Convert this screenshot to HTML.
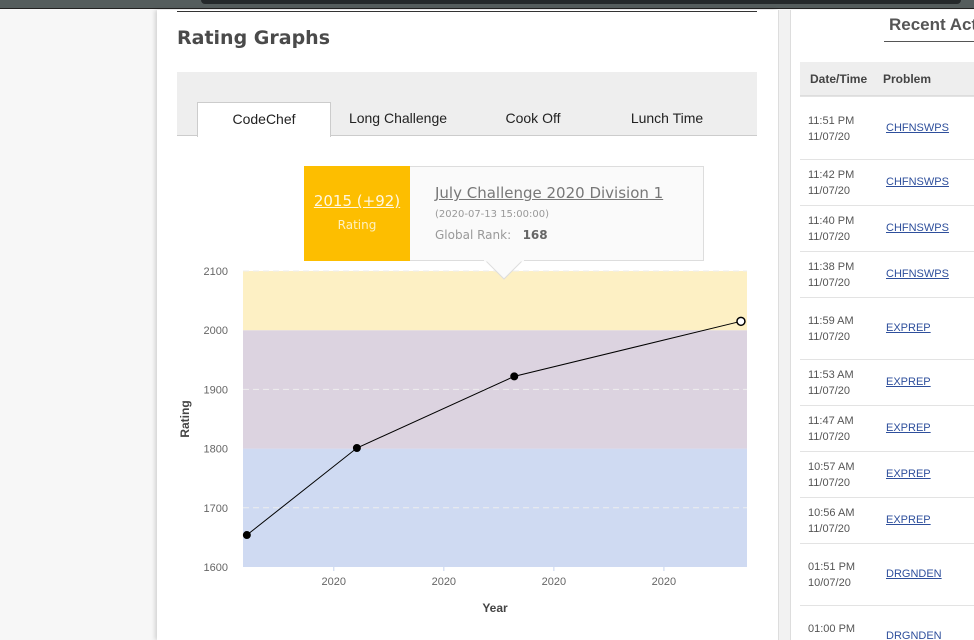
<!DOCTYPE html>
<html style="width:974px;height:640px;overflow:hidden"><head><meta charset="utf-8"><style>
*{box-sizing:border-box;margin:0;padding:0}
html,body{width:974px;height:640px;overflow:hidden}
body{background:#f7f7f7;font-family:"Liberation Sans",sans-serif;position:relative}
.abs{position:absolute}
.row{position:absolute;left:800px;width:174px;border-top:1px solid #e3e3e3}
.row .t{position:absolute;left:8px;font-size:11px;color:#555;line-height:16px}
.row a{position:absolute;left:86px;font-size:11px;color:#2e4f9c;text-decoration:underline}
</style></head><body>
<div class="abs" style="left:0;top:0;width:974px;height:9px;background:#555d5d;border-bottom:1px solid #222"></div>
<div class="abs" style="left:201px;top:0;width:760px;height:4px;background:#25292b;border-radius:0 0 4px 4px"></div>
<div class="abs" style="left:157px;top:10px;width:621px;height:630px;background:#fff;box-shadow:-2px 0 4px rgba(0,0,0,.15)"></div>
<div class="abs" style="left:778px;top:10px;width:12px;height:630px;background:#f2f2f2;border-left:1px solid #ddd"></div>
<div class="abs" style="left:790px;top:10px;width:184px;height:630px;background:#fff;border-left:1px solid #ddd"></div>
<div class="abs" style="left:177px;top:11px;width:580px;height:1px;background:#333"></div>
<div class="abs" style="left:177px;top:27px;font-size:19px;font-weight:bold;color:#4a4a4a;font-family:'DejaVu Sans',sans-serif">Rating Graphs</div>
<div class="abs" style="left:177px;top:72px;width:580px;height:64px;background:#eee;border-bottom:1px solid #ccc"></div>
<div class="abs" style="left:197px;top:102px;width:134px;height:35px;background:#fff;border:1px solid #ccc;border-bottom:none;text-align:center;line-height:32px;font-size:14px;color:#222">CodeChef</div>
<div class="abs" style="left:333px;top:102px;width:130px;line-height:32px;text-align:center;font-size:14px;color:#222">Long Challenge</div>
<div class="abs" style="left:468px;top:102px;width:130px;line-height:32px;text-align:center;font-size:14px;color:#222">Cook Off</div>
<div class="abs" style="left:602px;top:102px;width:130px;line-height:32px;text-align:center;font-size:14px;color:#222">Lunch Time</div>

<svg class="abs" style="left:0;top:0" width="974" height="640" id="chart"></svg>

<div class="abs" style="left:304px;top:166px;width:400px;height:95px;background:#fafafa;border:1px solid #ddd;font-family:'DejaVu Sans',sans-serif">
 <div class="abs" style="left:-1px;top:-1px;width:106px;height:95px;background:#fdbe00;text-align:center;color:#fff">
  <div style="margin-top:26px;font-size:15px;text-decoration:underline;color:#fff7e0">2015 (+92)</div>
  <div style="margin-top:8px;font-size:12px;color:#fef0c0">Rating</div>
 </div>
 <div class="abs" style="left:130px;top:17px;font-size:15px;color:#777;text-decoration:underline">July Challenge 2020 Division 1</div>
 <div class="abs" style="left:130px;top:42px;font-size:10px;color:#999">(2020-07-13 15:00:00)</div>
 <div class="abs" style="left:130px;top:61px;font-size:12px;color:#999">Global Rank:&nbsp;&nbsp; <b style="color:#666">168</b></div>
</div>
<svg class="abs" style="left:484px;top:260px" width="40" height="22"><polygon points="1,0 39,0 20,19" fill="#fafafa" stroke="#ddd"/><rect x="0" y="0" width="40" height="1.5" fill="#fafafa"/></svg>

<div class="abs" style="left:889px;top:15px;font-size:17px;font-weight:bold;color:#555;white-space:nowrap">Recent Activity</div>
<div class="abs" style="left:884px;top:41px;width:90px;height:1px;background:#555"></div>
<div class="abs" style="left:800px;top:62px;width:174px;height:34px;background:#eee;border-bottom:1px solid #ddd;font-size:12px;font-weight:bold;color:#444;line-height:34px"><span style="position:absolute;left:10px">Date/Time</span><span style="position:absolute;left:83px">Problem</span></div>
<div id="rows"></div>

<script>
const days=[0.7,20.7,49.3,90.5];
const ratings=[1654,1801,1922,2015];
const tickDays=[16.5,36.5,56.5,76.5];
const tickLabels=["2020","2020","2020","2020"];
const yTicks=[1600,1700,1800,1900,2000,2100];
const bandLo=[1600,1800,2000];
const bandHi=[1800,2000,2100];
const bandColors=["#cfdaf2","#dcd3e0","#fdf0c4"];
const X0=243,X1=747,Y0=567,Y1=271,D0=0,D1=91.6,R0=1600,R1=2100;
const xs=d=>X0+(d-D0)/(D1-D0)*(X1-X0);
const ys=r=>Y0-(r-R0)/(R1-R0)*(Y0-Y1);
const NS="http://www.w3.org/2000/svg",svg=document.getElementById('chart');
function mk(t,a){const e=document.createElementNS(NS,t);for(const k in a)e.setAttribute(k,a[k]);svg.appendChild(e);return e;}
bandLo.forEach((lo,i)=>{const e=mk('rect',{x:X0,y:ys(bandHi[i]),width:X1-X0,height:ys(lo)-ys(bandHi[i]),fill:bandColors[i]});

});
yTicks.forEach(v=>{
 if(v%200===100){const l=mk('line',{x1:X0,x2:X1,y1:ys(v),y2:ys(v),stroke:'#eee',"stroke-dasharray":"6,4","stroke-width":1});
 
 }
 const t=mk('text',{x:228,y:ys(v)+4,"text-anchor":"end","font-size":11,fill:'#666',"font-family":"Liberation Sans,sans-serif"});t.textContent=v;
 
 });
tickDays.forEach((d,i)=>{const l=mk('line',{x1:xs(d),x2:xs(d),y1:Y0,y2:Y0+4,stroke:'#c6d4f0'});
 
 
 const t=mk('text',{x:xs(d),y:585,"text-anchor":"middle","font-size":11,fill:'#666',"font-family":"Liberation Sans,sans-serif"});t.textContent=tickLabels[i];
 
 });
const yt=mk('text',{x:0,y:0,transform:'translate(189,419) rotate(-90)',"text-anchor":"middle","font-size":12,"font-weight":"bold",fill:'#444',"font-family":"Liberation Sans,sans-serif"});yt.textContent='Rating';


const xt=mk('text',{x:495,y:612,"text-anchor":"middle","font-size":12,"font-weight":"bold",fill:'#444',"font-family":"Liberation Sans,sans-serif"});xt.textContent='Year';


const pl=mk('polyline',{points:days.map((d,i)=>xs(d)+','+ys(ratings[i])).join(' '),fill:'none',stroke:'#000',"stroke-width":1});


days.forEach((d,i)=>{const last=i===days.length-1;
 const c=mk('circle',{cx:xs(d),cy:ys(ratings[i]),r:last?4:3.5,fill:last?'#fff':'#000',stroke:'#000',"stroke-width":last?1.5:1});
 
 });
const rows=[[96,63,"11:51 PM","11/07/20","CHFNSWPS"],[159,46,"11:42 PM","11/07/20","CHFNSWPS"],[205,46,"11:40 PM","11/07/20","CHFNSWPS"],[251,46,"11:38 PM","11/07/20","CHFNSWPS"],[297,62,"11:59 AM","11/07/20","EXPREP"],[359,46,"11:53 AM","11/07/20","EXPREP"],[405,46,"11:47 AM","11/07/20","EXPREP"],[451,46,"10:57 AM","11/07/20","EXPREP"],[497,46,"10:56 AM","11/07/20","EXPREP"],[543,62,"01:51 PM","10/07/20","DRGNDEN"],[605,35,"01:00 PM","10/07/20","DRGNDEN"]];
const rc=document.getElementById('rows');
rows.forEach(r=>{const d=document.createElement('div');d.className='row';d.style.top=r[0]+'px';d.style.height=r[1]+'px';d.style.overflow='hidden';
 
 
 const h=r[1]<40?62:r[1];
 const mt=(h-32)/2;
 d.innerHTML='<div class="t" style="top:'+mt+'px">'+r[2]+'<br>'+r[3]+'</div><a style="top:'+(h/2-7)+'px">'+r[4]+'</a>';
 d.querySelector('a');
 d.querySelector('a');
 d.querySelector('.t');
 d.querySelector('.t');
 rc.appendChild(d);});
</script>
</body></html>
